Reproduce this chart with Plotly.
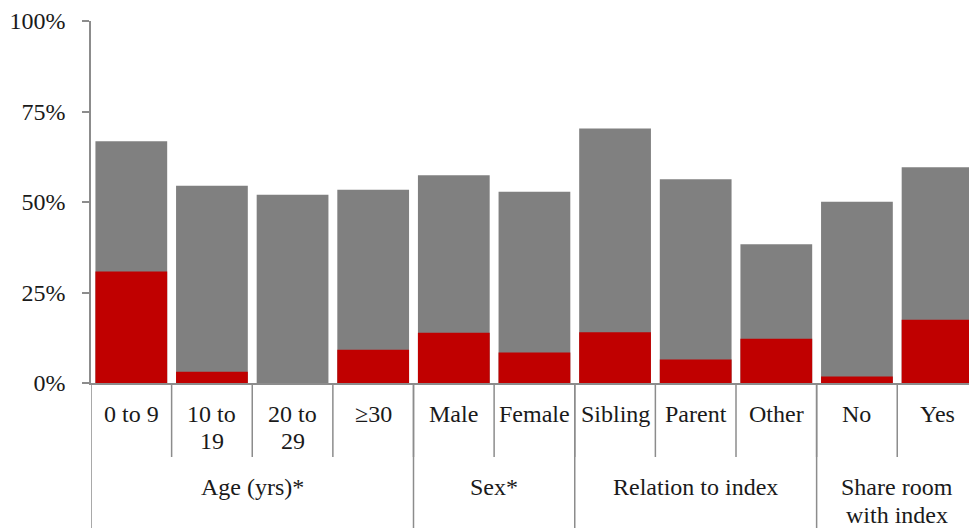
import plotly.graph_objects as go

# categories, grouped along the x axis
categories = ["0 to 9", "10 to<br>19", "20 to<br>29", "\u226530", "Male", "Female",
              "Sibling", "Parent", "Other", "No", "Yes"]
groups = ["Age (yrs)*", "Sex*", "Relation to index", "Share room<br>with index"]
group_sizes = [4, 2, 3, 2]

# proportions
total = [0.668, 0.545, 0.520, 0.534, 0.574, 0.528, 0.703, 0.563, 0.383, 0.501, 0.596]
red_part = [0.308, 0.031, 0.0, 0.092, 0.139, 0.084, 0.140, 0.065, 0.122, 0.018, 0.175]

y_ticks = [0, 0.25, 0.5, 0.75, 1.0]
y_tick_labels = ["0%", "25%", "50%", "75%", "100%"]

FONT = "Liberation Serif"
FS = 24
AXIS_COL = "#8c8c8c"
H, T, B = 528, 21, 145
plot_h = H - T - B


def paper_y(px):
    # pixel row -> paper coordinate (0 = x axis line)
    return (H - B - px) / plot_h


def add_label(anns, xpos, text, first_row, step):
    for k, line in enumerate(text.split("<br>")):
        anns.append(dict(x=xpos, y=paper_y(first_row + k * step), xref="x", yref="paper",
                         text=line, showarrow=False, yanchor="middle", xanchor="center",
                         font=dict(family=FONT, size=FS, color="#1a1a1a")))


x = list(range(len(categories)))

fig = go.Figure()
fig.add_trace(go.Bar(x=x, y=total, width=0.89, marker=dict(color="#808080", line=dict(width=0)),
                     name="All"))
fig.add_trace(go.Bar(x=x, y=red_part, width=0.89, marker=dict(color="#C00000", line=dict(width=0)),
                     name="Subset"))

annotations = []
shapes = []
for i, c in enumerate(categories):
    add_label(annotations, i, c, 414, 27)
    shapes.append(dict(type="line", xref="x", yref="paper", x0=i + 0.5, x1=i + 0.5,
                       y0=0, y1=paper_y(457), line=dict(color=AXIS_COL, width=1.5)))

start = 0
for g, n in zip(groups, group_sizes):
    add_label(annotations, start + (n - 1) / 2, g, 487, 28)
    shapes.append(dict(type="line", xref="x", yref="paper", x0=start - 0.5, x1=start - 0.5,
                       y0=0, y1=paper_y(H), line=dict(color=AXIS_COL, width=1.5)))
    start += n

fig.update_layout(
    barmode="overlay",
    width=969, height=H,
    margin=dict(l=91, r=0, t=T, b=B),
    plot_bgcolor="white", paper_bgcolor="white",
    showlegend=False,
    annotations=annotations,
    shapes=shapes,
    font=dict(family=FONT, size=FS, color="#1a1a1a"),
)
fig.update_xaxes(range=[-0.5, 10.39], showticklabels=False, showgrid=False, zeroline=False,
                 showline=True, linecolor=AXIS_COL, linewidth=1.5, ticks="")
fig.update_yaxes(range=[0, 1], tickvals=y_ticks, ticktext=y_tick_labels, showgrid=False,
                 zeroline=False, showline=True, linecolor=AXIS_COL, linewidth=1.5,
                 ticks="outside", ticklen=7, tickcolor=AXIS_COL, tickwidth=1.5,
                 ticklabelstandoff=12, tickfont=dict(family=FONT, size=FS, color="#1a1a1a"))

# the page's default body margin would shift the figure off the window
fig.write_html("out.html", config={"displayModeBar": False},
               post_script="document.body.style.margin='0';")
